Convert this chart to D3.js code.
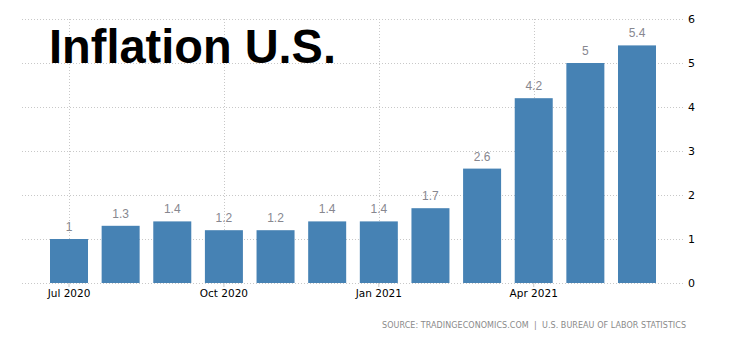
<!DOCTYPE html>
<html>
<head>
<meta charset="utf-8">
<script src="https://cdn.jsdelivr.net/npm/d3@7"></script>
<style>
  html, body { margin: 0; padding: 0; background: #fff; }
  svg { display: block; }
</style>
</head>
<body>
<svg id="chart" width="730" height="340"></svg>
<script>
const months = ["Jul 2020","Aug 2020","Sep 2020","Oct 2020","Nov 2020","Dec 2020","Jan 2021","Feb 2021","Mar 2021","Apr 2021","May 2021","Jun 2021"];
const values = [1, 1.3, 1.4, 1.2, 1.2, 1.4, 1.4, 1.7, 2.6, 4.2, 5, 5.4];
const xTickLabels = ["Jul 2020","Oct 2020","Jan 2021","Apr 2021"];
const yTicks = [0, 1, 2, 3, 4, 5, 6];
const title = "Inflation U.S.";
const source = "SOURCE: TRADINGECONOMICS.COM  |  U.S. BUREAU OF LABOR STATISTICS";

const svg = d3.select("#chart");
const plotLeft = 22, plotRight = 685, plotTop = 19, plotBottom = 283;

const x = d3.scaleBand().domain(months).range([50, 656]).paddingInner(0.264).paddingOuter(0);
const y = d3.scaleLinear().domain([0, 6]).range([plotBottom, plotTop]);

const grid = svg.append("g");
grid.selectAll("line.h").data(yTicks).enter().append("line")
  .attr("x1", plotLeft).attr("x2", plotRight)
  .attr("y1", d => y(d) + 0.5).attr("y2", d => y(d) + 0.5)
  .attr("stroke", "#c8c8c8").attr("stroke-width", 1).attr("stroke-dasharray", "1,2");
grid.selectAll("line.v").data(xTickLabels).enter().append("line")
  .attr("x1", d => Math.round(x(d) + x.bandwidth() / 2) + 0.5)
  .attr("x2", d => Math.round(x(d) + x.bandwidth() / 2) + 0.5)
  .attr("y1", plotTop).attr("y2", plotBottom)
  .attr("stroke", "#c8c8c8").attr("stroke-width", 1).attr("stroke-dasharray", "1,2");

svg.append("g").selectAll("rect").data(values).enter().append("rect")
  .attr("x", (d, i) => x(months[i]))
  .attr("width", x.bandwidth())
  .attr("y", d => y(d))
  .attr("height", d => y(0) - y(d))
  .attr("fill", "#4682b4");

svg.append("g").selectAll("text").data(values).enter().append("text")
  .attr("x", (d, i) => x(months[i]) + x.bandwidth() / 2)
  .attr("y", d => y(d) - 8)
  .attr("text-anchor", "middle")
  .attr("font-family", "Liberation Sans, Arial, sans-serif")
  .attr("font-size", 12)
  .attr("fill", "#87878f")
  .text(d => d);

const xAxis = d3.axisBottom(x).tickValues(xTickLabels).tickSize(4).tickPadding(3);
const gx = svg.append("g").attr("transform", `translate(0,${plotBottom})`).call(xAxis);
gx.select(".domain").remove();
gx.selectAll(".tick line").attr("stroke", "#c8c8c8");
gx.selectAll(".tick text")
  .attr("font-family", "DejaVu Sans, Tahoma, sans-serif")
  .attr("font-size", 10.5).attr("fill", "#000");

const yAxis = d3.axisRight(y).tickValues(yTicks).tickFormat(d3.format("d")).tickSize(0).tickPadding(0);
const gy = svg.append("g").attr("transform", `translate(688,0)`).call(yAxis);
gy.select(".domain").remove();
gy.selectAll(".tick text")
  .attr("font-family", "DejaVu Sans, Tahoma, sans-serif")
  .attr("font-size", 11).attr("fill", "#000");

svg.append("text")
  .attr("x", 49).attr("y", 63)
  .attr("font-family", "Liberation Sans, Arial, sans-serif")
  .attr("font-weight", "bold").attr("font-size", 49)
  .attr("textLength", 287).attr("lengthAdjust", "spacingAndGlyphs")
  .attr("fill", "#000")
  .text(title);

svg.append("text")
  .attr("x", 382).attr("y", 328)
  .attr("font-family", "DejaVu Sans, Tahoma, sans-serif")
  .attr("font-size", 8)
  .attr("textLength", 304).attr("lengthAdjust", "spacing")
  .attr("fill", "#8a8a8a")
  .style("white-space", "pre")
  .text(source);
</script>
</body>
</html>
